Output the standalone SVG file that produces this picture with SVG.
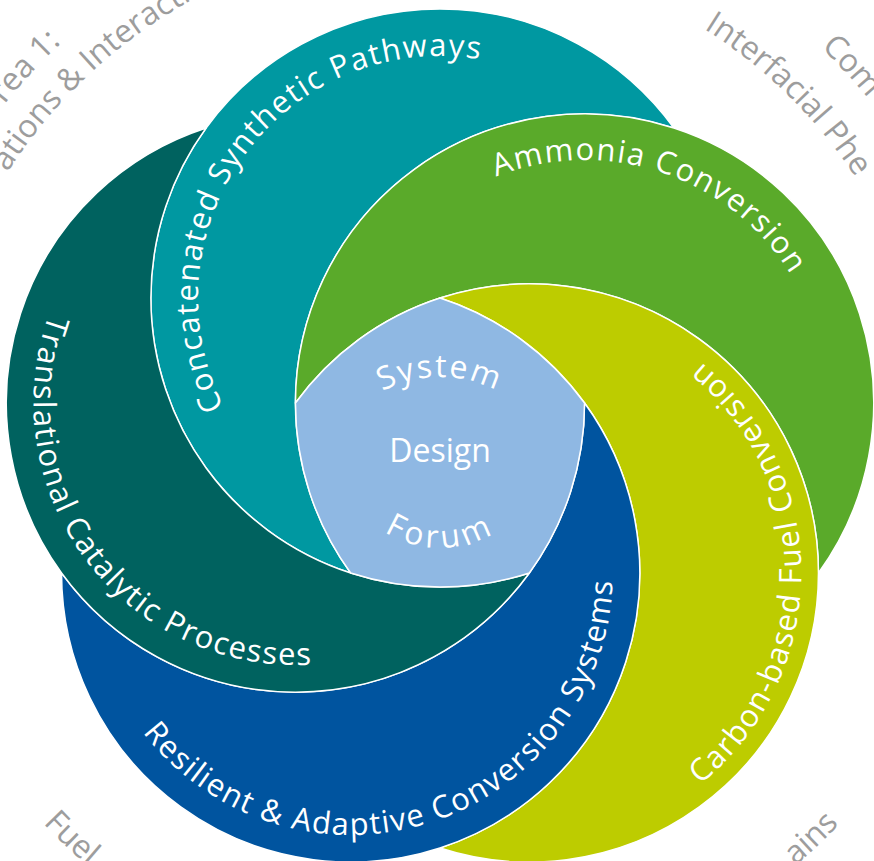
<svg xmlns="http://www.w3.org/2000/svg" xmlns:xlink="http://www.w3.org/1999/xlink" width="874" height="861" viewBox="0 0 874 861">
<style>
.region{stroke:#ffffff;stroke-width:1.5;stroke-linejoin:round}
.lbl{font-family:"Open Sans","Liberation Sans",sans-serif;font-size:31px;fill:#ffffff;letter-spacing:1.5px}
.ctr{font-family:"Open Sans","Liberation Sans",sans-serif;font-size:32px;fill:#ffffff}
.gray{font-family:"Open Sans","Liberation Sans",sans-serif;font-size:32px;fill:#9d9d9d}
</style>
<defs>
<path id="crescent" d="M673.90,128.06 A289.12,289.12 0 1 0 350.66,572.97 A289.12,289.12 0 0 1 673.90,128.06 Z"/>
<path id="p-teal" d="M332.02,514.57 A242,242 0 1 1 615.54,131.42"/>
<path id="p-green" d="M344.23,367.11 A243,243 0 1 1 798.11,518.98"/>
<path id="p-yellow" d="M482.11,840.84 A272,272 0 1 0 482.11,305.10"/>
<path id="p-blue" d="M91.21,609.43 A262,262 0 1 0 581.99,449.97"/>
<path id="p-dark" d="M176.49,169.59 A262,262 0 1 0 487.05,581.71"/>
<path id="p-system" d="M318.87,521.36 A123,123 0 1 1 561.13,521.36"/>
<path id="p-forum" d="M338.56,427.11 A103,103 0 1 0 541.44,427.11"/>
<path id="g-ul-in" d="M123.55,855.04 A514,514 0 1 1 875.90,177.62"/>
<path id="g-ul-out" d="M138.81,917.35 A556,556 0 1 1 882.57,113.46"/>
<path id="g-ur-in" d="M29.92,169.21 A497,497 0 1 1 729.32,854.11"/>
<path id="g-ur-out" d="M-2.44,116.59 A554,554 0 1 1 741.73,914.62"/>
<path id="g-bl" d="M115.82,11.90 A545,545 0 1 0 894.47,750.81"/>
<path id="g-br" d="M-15.08,753.50 A547,547 0 1 0 763.83,9.16"/>
</defs>
<rect width="874" height="861" fill="#ffffff"/>
<g id="outer-labels">
<text class="gray"><textPath xlink:href="#g-ul-out" href="#g-ul-out" startOffset="50%" text-anchor="middle">rea 1:</textPath></text>
<text class="gray"><textPath xlink:href="#g-ul-in" href="#g-ul-in" startOffset="50%" text-anchor="middle">ations &amp; Interactio</textPath></text>
<text class="gray"><textPath xlink:href="#g-ur-out" href="#g-ur-out" startOffset="50%" text-anchor="middle">Com</textPath></text>
<text class="gray"><textPath xlink:href="#g-ur-in" href="#g-ur-in" startOffset="50%" text-anchor="middle">Interfacial Phe</textPath></text>
<text class="gray"><textPath xlink:href="#g-bl" href="#g-bl" startOffset="50%" text-anchor="middle">Fuel</textPath></text>
<text class="gray"><textPath xlink:href="#g-br" href="#g-br" startOffset="50%" text-anchor="middle">ains</textPath></text>
</g>
<g id="node-concatenated">
<use href="#crescent" xlink:href="#crescent" class="region" fill="#0098a1"/>
<text class="lbl"><textPath href="#p-teal" xlink:href="#p-teal" startOffset="50%" text-anchor="middle">Concatenated Synthetic Pathways</textPath></text>
</g>
<g id="node-ammonia">
<use href="#crescent" xlink:href="#crescent" class="region" fill="#5aaa2a" transform="rotate(72 440 450)"/>
<text class="lbl"><textPath href="#p-green" xlink:href="#p-green" startOffset="50%" text-anchor="middle">Ammonia Conversion</textPath></text>
</g>
<g id="node-carbon">
<use href="#crescent" xlink:href="#crescent" class="region" fill="#bdcc00" transform="rotate(144 440 450)"/>
<text class="lbl"><textPath href="#p-yellow" xlink:href="#p-yellow" startOffset="50%" text-anchor="middle">Carbon-based Fuel Conversion</textPath></text>
</g>
<g id="node-resilient">
<use href="#crescent" xlink:href="#crescent" class="region" fill="#00549f" transform="rotate(216 440 450)"/>
<text class="lbl"><textPath href="#p-blue" xlink:href="#p-blue" startOffset="50%" text-anchor="middle">Resilient &amp; Adaptive Conversion Systems</textPath></text>
</g>
<g id="node-translational">
<use href="#crescent" xlink:href="#crescent" class="region" fill="#00625f" transform="rotate(288 440 450)"/>
<text class="lbl"><textPath href="#p-dark" xlink:href="#p-dark" startOffset="50%" text-anchor="middle">Translational Catalytic Processes</textPath></text>
</g>
<g id="node-center">
<path class="region" fill="#8fb8e3" d="M440,298 A289.12,289.12 0 0 1 584.56,403.03 A289.12,289.12 0 0 1 529.34,572.97 A289.12,289.12 0 0 1 350.66,572.97 A289.12,289.12 0 0 1 295.44,403.03 A289.12,289.12 0 0 1 440,298 Z"/>
<text class="ctr" letter-spacing="2"><textPath href="#p-system" xlink:href="#p-system" startOffset="50%" text-anchor="middle">System</textPath></text>
<text class="ctr" x="440" y="462" text-anchor="middle">Design</text>
<text class="ctr" letter-spacing="4"><textPath href="#p-forum" xlink:href="#p-forum" startOffset="50%" text-anchor="middle">Forum</textPath></text>
</g>
<g id="connectors"/>
</svg>
